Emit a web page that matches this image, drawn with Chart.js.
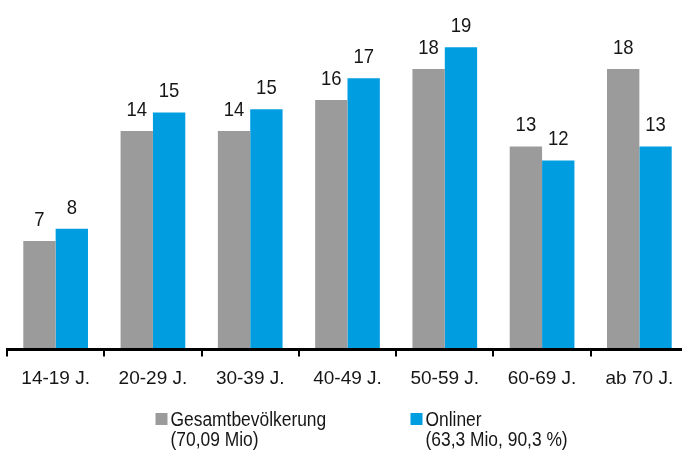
<!DOCTYPE html>
<html>
<head>
<meta charset="utf-8">
<script src="https://cdn.jsdelivr.net/npm/chart.js@4"></script>
<style>
  html, body { margin: 0; padding: 0; background: #fff; overflow: hidden; width: 682px; height: 456px; }
  canvas { display: block; }
</style>
</head>
<body>
<canvas id="c" width="688" height="456"></canvas>
<script>
const categories = ["14-19 J.", "20-29 J.", "30-39 J.", "40-49 J.", "50-59 J.", "60-69 J.", "ab 70 J."];
const gesamtValues = [6.9, 14.0, 14.0, 16.0, 18.0, 13.0, 18.0];
const onlinerValues = [7.7, 15.2, 15.4, 17.4, 19.4, 12.1, 13.0];
const gesamtLabel = ["Gesamtbevölkerung", "(70,09 Mio)"];
const onlinerLabel = ["Onliner", "(63,3 Mio, 90,3 %)"];

const FONT = "'Liberation Sans', Arial, Helvetica, sans-serif";
const GRAY = "#9b9b9b";
const BLUE = "#009ee0";
const TEXT = "#161616";

function drawNarrow(ctx, text, x, y, sx, align) {
  ctx.save();
  ctx.translate(x, y);
  ctx.scale(sx, 1);
  ctx.textAlign = align;
  ctx.fillText(text, 0, 0);
  ctx.restore();
}

const valueLabels = {
  id: "valueLabels",
  afterDatasetsDraw(chart) {
    const ctx = chart.ctx;
    ctx.save();
    ctx.font = "21px " + FONT;
    ctx.fillStyle = TEXT;
    ctx.textBaseline = "alphabetic";
    chart.data.datasets.forEach((ds, i) => {
      const meta = chart.getDatasetMeta(i);
      meta.data.forEach((bar, j) => {
        drawNarrow(ctx, String(Math.round(ds.data[j])), bar.x, bar.y - 15, 0.88, "center");
      });
    });
    ctx.restore();
  }
};

const customLegend = {
  id: "customLegend",
  afterDraw(chart) {
    const ctx = chart.ctx;
    const ca = chart.chartArea;
    const mid = (ca.left + ca.right) / 2;
    const xs = [mid - 192, mid + 63];
    const top = 413;
    ctx.save();
    ctx.font = "20px " + FONT;
    ctx.textBaseline = "alphabetic";
    chart.data.datasets.forEach((ds, i) => {
      const x = xs[i];
      ctx.fillStyle = ds.backgroundColor;
      ctx.fillRect(x, top, 12, 12);
      ctx.fillStyle = TEXT;
      ds.label.forEach((line, k) => {
        drawNarrow(ctx, line, x + 15, top + 13 + k * 20, 0.87, "left");
      });
    });
    ctx.restore();
  }
};

new Chart(document.getElementById("c"), {
  type: "bar",
  data: {
    labels: categories,
    datasets: [
      { label: gesamtLabel, data: gesamtValues, backgroundColor: GRAY },
      { label: onlinerLabel, data: onlinerValues, backgroundColor: BLUE }
    ]
  },
  options: {
    responsive: false,
    devicePixelRatio: 1,
    animation: false,
    layout: { padding: { left: 7, right: 0, top: 7, bottom: 60 } },
    datasets: { bar: { categoryPercentage: 0.665, barPercentage: 1.0 } },
    plugins: { legend: { display: false }, tooltip: { enabled: false } },
    scales: {
      x: {
        z: 1,
        afterFit(scale) { scale.height = 46.5; },
        grid: { offset: true, drawOnChartArea: false, drawTicks: true, tickLength: 7, color: "#000", lineWidth: 2 },
        border: { display: true, color: "#000", width: 3 },
        ticks: { color: TEXT, font: { family: FONT, size: 19 }, padding: 10.5, maxRotation: 0 }
      },
      y: {
        display: false,
        min: -0.097,
        max: 22
      }
    }
  },
  plugins: [valueLabels, customLegend]
});
</script>
</body>
</html>
